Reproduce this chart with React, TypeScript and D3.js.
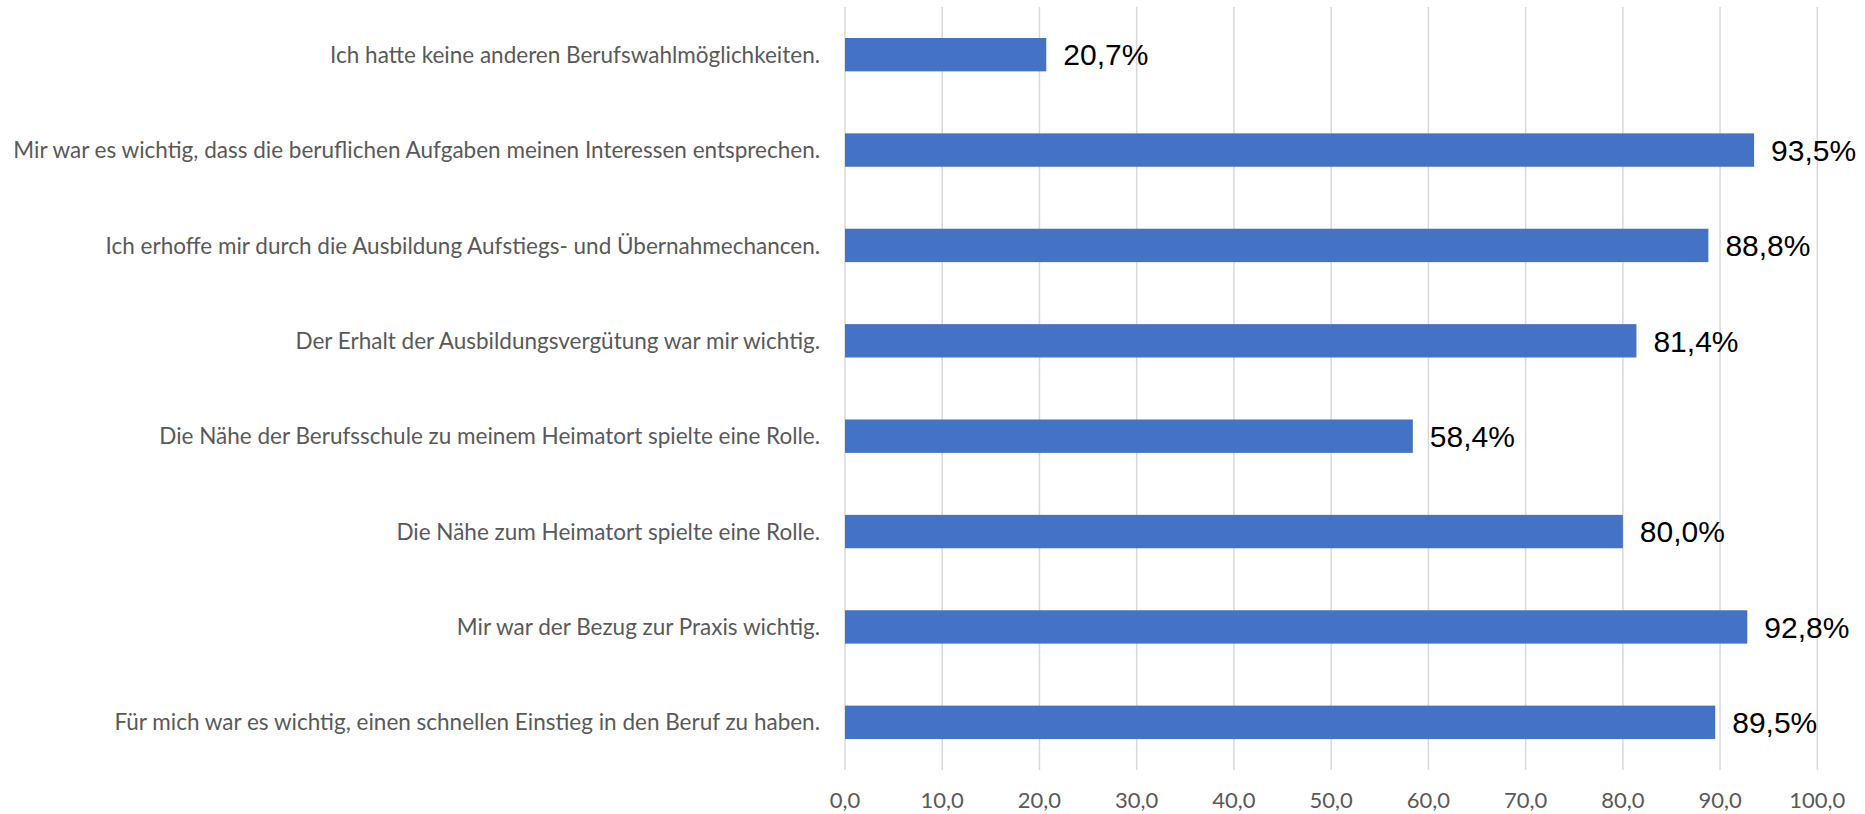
import React from "react";
import * as d3 from "d3";

const categories: string[] = [
  "Ich hatte keine anderen Berufswahlmöglichkeiten.",
  "Mir war es wichtig, dass die beruflichen Aufgaben meinen Interessen entsprechen.",
  "Ich erhoffe mir durch die Ausbildung Aufstiegs- und Übernahmechancen.",
  "Der Erhalt der Ausbildungsvergütung war mir wichtig.",
  "Die Nähe der Berufsschule zu meinem Heimatort spielte eine Rolle.",
  "Die Nähe zum Heimatort spielte eine Rolle.",
  "Mir war der Bezug zur Praxis wichtig.",
  "Für mich war es wichtig, einen schnellen Einstieg in den Beruf zu haben.",
];
const values: number[] = [20.7, 93.5, 88.8, 81.4, 58.4, 80.0, 92.8, 89.5];
const ticks: number[] = [0, 10, 20, 30, 40, 50, 60, 70, 80, 90, 100];

const W = 1865;
const H = 814;

export default function App() {
  const x = d3.scaleLinear().domain([0, 100]).range([845, 1817.3]);
  const y = d3
    .scaleBand<string>()
    .domain(categories)
    .range([7, 770])
    .paddingInner(0.65)
    .paddingOuter(0.325);
  const fmt = (v: number) => v.toFixed(1).replace(".", ",");
  const labelFont = "Lato, 'Open Sans', sans-serif";
  return (
    <div style={{ position: "absolute", left: 0, top: 0 }}>
      <svg width={W} height={H} style={{ display: "block", background: "#fff" }}>
        <g>
          {ticks.map((t) => (
            <line
              key={"g" + t}
              x1={x(t)}
              x2={x(t)}
              y1={7}
              y2={770}
              stroke="#D9D9D9"
              strokeWidth={1.5}
            />
          ))}
        </g>
        <g>
          {categories.map((c, i) => (
            <rect
              key={"b" + i}
              x={x(0)}
              y={y(c)!}
              width={x(values[i]) - x(0)}
              height={y.bandwidth()}
              fill="#4472C4"
            />
          ))}
        </g>
        <g>
          {categories.map((c, i) => (
            <text
              key={"v" + i}
              x={x(values[i]) + 17}
              y={y(c)! + y.bandwidth() / 2}
              dy="0.36em"
              fontFamily="'Liberation Sans', Arial, sans-serif"
              fontSize={30}
              fill="#000"
            >
              {fmt(values[i]) + "%"}
            </text>
          ))}
        </g>
        <g>
          {categories.map((c, i) => (
            <text
              key={"c" + i}
              x={820}
              y={y(c)! + y.bandwidth() / 2}
              dy="0.36em"
              textAnchor="end"
              fontFamily={labelFont}
              fontSize={22.5}
              fill="#595959"
            >
              {c}
            </text>
          ))}
        </g>
        <g>
          {ticks.map((t) => (
            <text
              key={"t" + t}
              x={x(t)}
              y={808}
              textAnchor="middle"
              fontFamily={labelFont}
              fontSize={22}
              fill="#595959"
            >
              {fmt(t)}
            </text>
          ))}
        </g>
      </svg>
    </div>
  );
}
